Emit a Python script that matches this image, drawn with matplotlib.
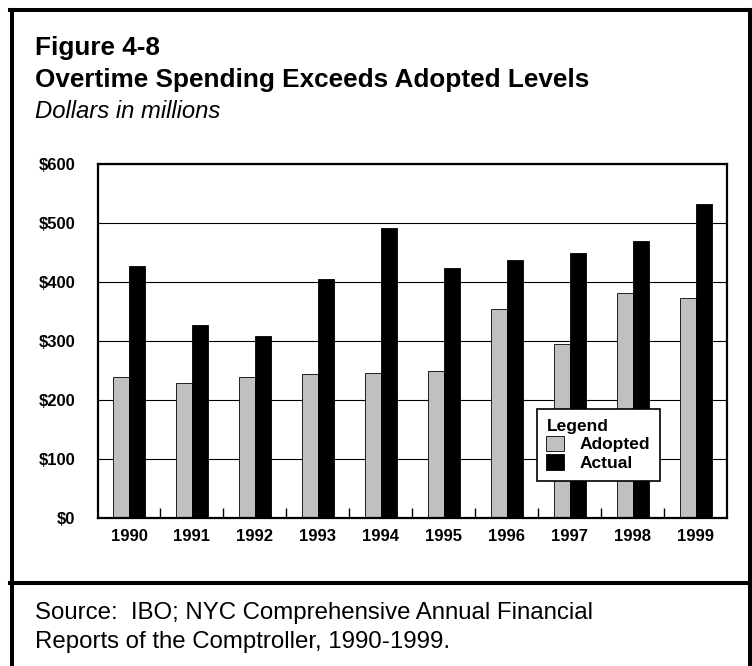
import matplotlib.pyplot as plt
import numpy as np
from matplotlib.lines import Line2D

plt.rcParams['font.family'] = ['Liberation Sans', 'DejaVu Sans']

years = ['1990', '1991', '1992', '1993', '1994', '1995', '1996', '1997', '1998', '1999']
adopted = [239, 229, 238, 243, 246, 249, 353, 295, 381, 372]
actual = [426, 327, 308, 404, 490, 423, 436, 448, 469, 532]
y_ticks = [0, 100, 200, 300, 400, 500, 600]
y_labels = ['$0', '$100', '$200', '$300', '$400', '$500', '$600']

fig = plt.figure(figsize=(7.52, 6.66), dpi=100)
ax = fig.add_axes([0.1297, 0.2222, 0.9668 - 0.1297, 0.7545 - 0.2222])

x = np.arange(len(years))
w = 0.254
ax.bar(x - w / 2, adopted, w, color='#c0c0c0', edgecolor='black', linewidth=0.6,
       label='Adopted', zorder=3)
ax.bar(x + w / 2, actual, w, color='black', edgecolor='black', linewidth=0.6,
       label='Actual', zorder=3)

ax.set_xlim(-0.5, len(years) - 0.5)
ax.set_ylim(0, 600)
ax.set_yticks(y_ticks)
ax.set_yticklabels(y_labels, fontsize=12, fontweight='bold')
ax.set_xticks(x)
ax.set_xticklabels(years, fontsize=12, fontweight='bold')
ax.set_xticks(x[:-1] + 0.5, minor=True)
ax.tick_params(axis='x', which='major', length=0, pad=8)
ax.tick_params(axis='x', which='minor', direction='in', length=7, width=1)
ax.tick_params(axis='y', direction='in', length=0, pad=16)
ax.yaxis.grid(True, color='black', linewidth=0.8, zorder=0)
for s in ax.spines.values():
    s.set_linewidth(1.6)
    s.set_zorder(4)

leg = ax.legend(title='Legend', loc='upper left', bbox_to_anchor=(0.698, 0.3075),
                borderaxespad=0, frameon=True, fancybox=False, framealpha=1,
                edgecolor='black', prop={'weight': 'bold', 'size': 12.5},
                handlelength=1.0, handleheight=1.0, handletextpad=0.9, borderpad=0.55,
                labelspacing=0.12, alignment='left')
leg.get_title().set_fontweight('bold')
leg.get_title().set_fontsize(12.5)
leg.get_frame().set_linewidth(1.2)
leg.set_zorder(5)

# titles and source note
fig.text(35 / 752, 1 - 55.5 / 666, 'Figure 4-8', fontsize=18.8, fontweight='bold', va='baseline')
fig.text(35 / 752, 1 - 87.5 / 666, 'Overtime Spending Exceeds Adopted Levels', fontsize=18.8,
         fontweight='bold', va='baseline')
fig.text(35 / 752, 1 - 118 / 666, 'Dollars in millions', fontsize=17.2, style='italic',
         va='baseline')
fig.text(35 / 752, 1 - 619 / 666, 'Source:  IBO; NYC Comprehensive Annual Financial',
         fontsize=17.3, va='baseline')
fig.text(35 / 752, 1 - 648 / 666, 'Reports of the Comptroller, 1990-1999.',
         fontsize=17.3, va='baseline')

# outer frame
lw = 2.9
fig.add_artist(Line2D([12 / 752, 12 / 752], [0, 1 - 9.5 / 666], color='black', lw=lw))
fig.add_artist(Line2D([750 / 752, 750 / 752], [0, 1 - 9.5 / 666], color='black', lw=lw))
fig.add_artist(Line2D([10 / 752, 752 / 752], [1 - 9.5 / 666, 1 - 9.5 / 666], color='black', lw=lw))
fig.add_artist(Line2D([10 / 752, 752 / 752], [1 - 583 / 666, 1 - 583 / 666], color='black', lw=lw))

fig.savefig('out.png', dpi=100)
